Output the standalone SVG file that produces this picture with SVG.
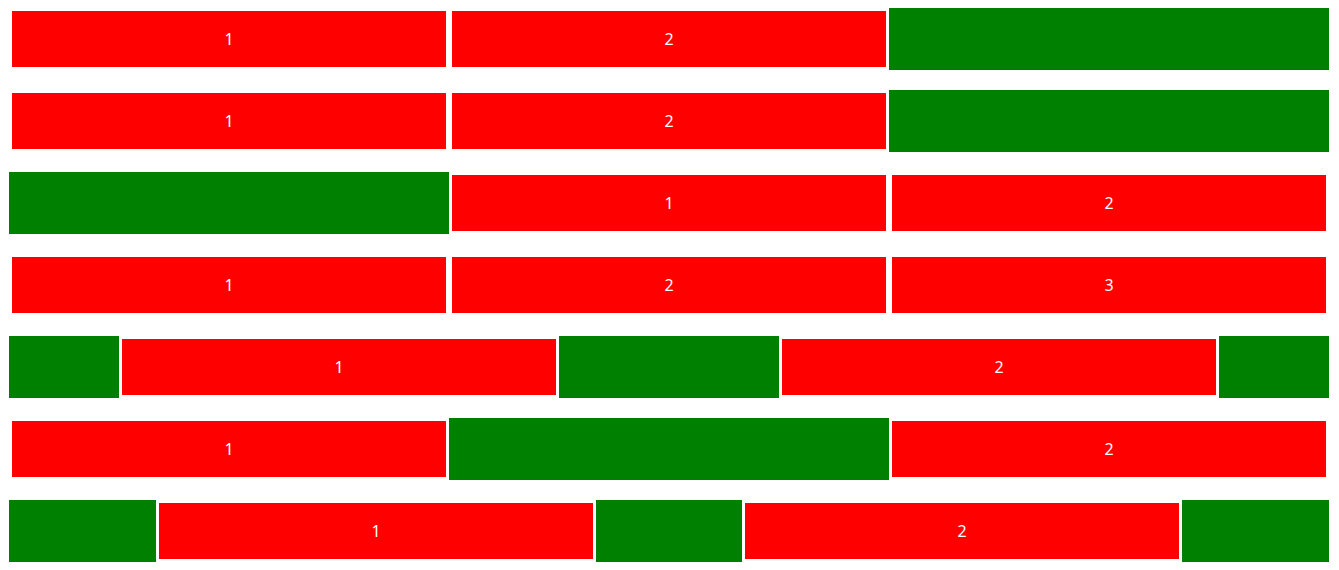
<svg xmlns="http://www.w3.org/2000/svg" width="1339" height="570" viewBox="0 0 1339 570">
<style>
.r{fill:#ff0000}
.g{fill:#008000}
text{fill:#fff;font-family:"Noto Sans","DejaVu Sans",sans-serif;font-size:16px;text-anchor:middle}
</style>
<rect width="1339" height="570" fill="#fff"/>
<g id="row1">
<g id="r1a"><rect class="r" x="12" y="11" width="434" height="56"/><text x="229" y="45">1</text></g>
<g id="r1b"><rect class="r" x="452" y="11" width="434" height="56"/><text x="669" y="45">2</text></g>
<g id="r1c"><rect class="g" x="889" y="8" width="440" height="62"/></g>
</g>
<g id="row2">
<g id="r2a"><rect class="r" x="12" y="93" width="434" height="56"/><text x="229" y="127">1</text></g>
<g id="r2b"><rect class="r" x="452" y="93" width="434" height="56"/><text x="669" y="127">2</text></g>
<g id="r2c"><rect class="g" x="889" y="90" width="440" height="62"/></g>
</g>
<g id="row3">
<g id="r3a"><rect class="g" x="9" y="172" width="440" height="62"/></g>
<g id="r3b"><rect class="r" x="452" y="175" width="434" height="56"/><text x="669" y="209">1</text></g>
<g id="r3c"><rect class="r" x="892" y="175" width="434" height="56"/><text x="1109" y="209">2</text></g>
</g>
<g id="row4">
<g id="r4a"><rect class="r" x="12" y="257" width="434" height="56"/><text x="229" y="291">1</text></g>
<g id="r4b"><rect class="r" x="452" y="257" width="434" height="56"/><text x="669" y="291">2</text></g>
<g id="r4c"><rect class="r" x="892" y="257" width="434" height="56"/><text x="1109" y="291">3</text></g>
</g>
<g id="row5">
<g id="r5a"><rect class="g" x="9" y="336" width="110" height="62"/></g>
<g id="r5b"><rect class="r" x="122" y="339" width="434" height="56"/><text x="339" y="373">1</text></g>
<g id="r5c"><rect class="g" x="559" y="336" width="220" height="62"/></g>
<g id="r5d"><rect class="r" x="782" y="339" width="434" height="56"/><text x="999" y="373">2</text></g>
<g id="r5e"><rect class="g" x="1219" y="336" width="110" height="62"/></g>
</g>
<g id="row6">
<g id="r6a"><rect class="r" x="12" y="421" width="434" height="56"/><text x="229" y="455">1</text></g>
<g id="r6b"><rect class="g" x="449" y="418" width="440" height="62"/></g>
<g id="r6c"><rect class="r" x="892" y="421" width="434" height="56"/><text x="1109" y="455">2</text></g>
</g>
<g id="row7">
<g id="r7a"><rect class="g" x="9" y="500" width="147" height="62"/></g>
<g id="r7b"><rect class="r" x="159" y="503" width="434" height="56"/><text x="376" y="537">1</text></g>
<g id="r7c"><rect class="g" x="596" y="500" width="146" height="62"/></g>
<g id="r7d"><rect class="r" x="745" y="503" width="434" height="56"/><text x="962" y="537">2</text></g>
<g id="r7e"><rect class="g" x="1182" y="500" width="147" height="62"/></g>
</g>
<g id="connectors"/>
</svg>
